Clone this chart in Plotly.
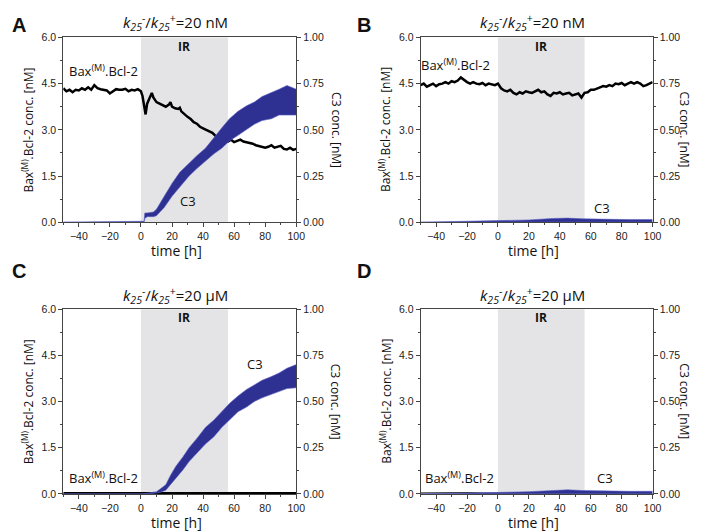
import plotly.graph_objects as go

# ---------------- data ----------------
IR_START, IR_END = 0, 56

# Panel A  (k25-/k25+ = 20 nM)
a_bax_t = [-50, -48, -46, -44, -42, -40, -38, -36, -34, -32, -30, -28, -26, -24, -22, -20, -18, -16, -14, -12,
           -10, -8, -6, -4, -2, 0, 1, 2, 3, 4, 5, 6, 7, 8, 10, 12, 14, 16, 18, 19, 20, 22, 24, 25, 26, 28, 30,
           32, 34, 36, 38, 40, 42, 44, 46, 48, 50, 52, 54, 56, 58, 60, 62, 64, 66, 68, 70, 72, 74, 76, 78, 80,
           82, 84, 86, 88, 90, 92, 94, 96, 98, 100]
a_bax_v = [4.35, 4.25, 4.30, 4.22, 4.30, 4.28, 4.35, 4.30, 4.38, 4.30, 4.45, 4.35, 4.32, 4.30, 4.28, 4.18, 4.25,
           4.32, 4.30, 4.30, 4.33, 4.25, 4.30, 4.28, 4.32, 4.25, 4.10, 3.75, 3.50, 3.85, 3.95, 4.10, 4.20, 4.05,
           3.90, 3.85, 3.80, 3.75, 3.82, 3.90, 3.75, 3.70, 3.68, 3.72, 3.60, 3.50, 3.42, 3.35, 3.25, 3.20, 3.10,
           3.05, 3.00, 2.95, 2.90, 2.80, 2.70, 2.65, 2.60, 2.62, 2.68, 2.60, 2.65, 2.68, 2.62, 2.60, 2.56, 2.55,
           2.50, 2.47, 2.45, 2.42, 2.45, 2.50, 2.42, 2.45, 2.48, 2.38, 2.36, 2.42, 2.35, 2.38]
a_c3_t = [-50, 2, 2.5, 4, 8, 10, 15, 20, 25, 31, 36, 41.5, 47, 52, 57, 62.5, 68, 73, 78, 84, 89, 94, 100]
a_c3_lo = [0, 0, 0.020, 0.030, 0.030, 0.035, 0.08, 0.14, 0.19, 0.25, 0.29, 0.33, 0.37, 0.40, 0.44, 0.47, 0.50,
           0.53, 0.55, 0.56, 0.58, 0.58, 0.58]
a_c3_hi = [0, 0.005, 0.050, 0.050, 0.055, 0.070, 0.14, 0.21, 0.27, 0.32, 0.36, 0.40, 0.46, 0.51, 0.56, 0.60, 0.63,
           0.65, 0.68, 0.70, 0.72, 0.74, 0.72]

# Panel B  (k25-/k25+ = 20 nM)
b_bax_t = list(range(-50, 101, 2))
b_bax_v = [4.45, 4.50, 4.40, 4.45, 4.50, 4.42, 4.48, 4.50, 4.55, 4.50, 4.58, 4.55, 4.60, 4.70, 4.62, 4.55, 4.50,
           4.55, 4.50, 4.48, 4.52, 4.45, 4.50, 4.48, 4.45, 4.50, 4.35, 4.28, 4.25, 4.30, 4.20, 4.15, 4.22, 4.18,
           4.25, 4.22, 4.20, 4.25, 4.30, 4.22, 4.25, 4.15, 4.10, 4.20, 4.18, 4.22, 4.15, 4.18, 4.20, 4.12, 4.15,
           4.18, 4.05, 4.20, 4.22, 4.30, 4.30, 4.35, 4.38, 4.42, 4.40, 4.45, 4.42, 4.50, 4.48, 4.52, 4.45, 4.50,
           4.55, 4.50, 4.55, 4.50, 4.42, 4.45, 4.50, 4.55]
b_c3_t = [-50, 3.5, 20, 35, 45, 55, 70, 85, 100]
b_c3_lo = [0, 0, 0, 0.002, 0.003, 0.002, 0.001, 0.001, 0.001]
b_c3_hi = [0, 0.008, 0.012, 0.020, 0.022, 0.018, 0.014, 0.014, 0.014]

# Panel C  (k25-/k25+ = 20 uM)
c_bax_t = [-50, -30, -10, 10, 30, 50, 70, 90, 100]
c_bax_v = [0.03, 0.03, 0.03, 0.03, 0.03, 0.03, 0.03, 0.03, 0.03]
c_c3_t = [-50, 0, 5, 10, 13, 16, 19, 22.5, 27, 31, 36, 41.5, 47, 52, 57, 62.5, 68, 73, 78, 84, 89, 94, 100]
c_c3_lo = [0, 0, 0.000, 0.005, 0.010, 0.020, 0.05, 0.08, 0.13, 0.175, 0.22, 0.27, 0.31, 0.36, 0.40, 0.445, 0.47,
           0.50, 0.52, 0.54, 0.555, 0.57, 0.575]
c_c3_hi = [0, 0, 0.005, 0.012, 0.030, 0.050, 0.10, 0.15, 0.20, 0.25, 0.30, 0.36, 0.40, 0.445, 0.49, 0.53, 0.565,
           0.59, 0.615, 0.635, 0.655, 0.68, 0.70]

# Panel D  (k25-/k25+ = 20 uM)
d_bax_t = [-50, -40, -30, -20, -10, 0, 10, 30, 50, 70, 90, 100]
d_bax_v = [0.03, 0.04, 0.03, 0.04, 0.03, 0.03, 0.02, 0.02, 0.02, 0.02, 0.02, 0.02]
d_c3_t = [-50, -25, 0, 20, 35, 45, 55, 70, 85, 100]
d_c3_lo = [0, 0, 0, 0, 0.002, 0.003, 0.002, 0.001, 0.001, 0.001]
d_c3_hi = [0, 0.006, 0.008, 0.012, 0.020, 0.022, 0.018, 0.014, 0.014, 0.014]

titles = ["<i>k</i><sub><i>25</i></sub><sup>-</sup>/<i>k</i><sub><i>25</i></sub><sup>+</sup>=20 nM",
          "<i>k</i><sub><i>25</i></sub><sup>-</sup>/<i>k</i><sub><i>25</i></sub><sup>+</sup>=20 nM",
          "<i>k</i><sub><i>25</i></sub><sup>-</sup>/<i>k</i><sub><i>25</i></sub><sup>+</sup>=20 µM",
          "<i>k</i><sub><i>25</i></sub><sup>-</sup>/<i>k</i><sub><i>25</i></sub><sup>+</sup>=20 µM"]
letters = ["A", "B", "C", "D"]
x_ticks = [-40, -20, 0, 20, 40, 60, 80, 100]
left_ticks = [0.0, 1.5, 3.0, 4.5, 6.0]
right_ticks = [0.0, 0.25, 0.5, 0.75, 1.0]

# label positions in data coordinates: (x, left-axis value)
bax_lbl = [(-24, 4.93), (-27.5, 5.12), (-24, 0.53), (-25, 0.53)]
c3_lbl = [(30.3, 0.69), (67, 0.45), (73.3, 4.23), (69, 0.53)]

panels_data = [
    (a_bax_t, a_bax_v, a_c3_t, a_c3_lo, a_c3_hi, 2.5),
    (b_bax_t, b_bax_v, b_c3_t, b_c3_lo, b_c3_hi, 2.5),
    (c_bax_t, c_bax_v, c_c3_t, c_c3_lo, c_c3_hi, 2.0),
    (d_bax_t, d_bax_v, d_c3_t, d_c3_lo, d_c3_hi, 1.0),
]

# ---------------- layout geometry (pixels) ----------------
W, H = 701, 531
boxes = [((56, 292), (24, 213)), ((418, 653), (24, 213)),
         ((56, 292), (302, 491)), ((418, 653), (302, 491))]
right_title_off = [40, 32, 40, 32]

BLUE = "#2e3192"
BLUE_EDGE = "#5b5fc4"
AX = "#444444"
TICKFONT = dict(family="Liberation Sans, Arial", size=10.5, color="#222")
TXT = "Open Sans, Noto Sans, sans-serif"

fig = go.Figure()
layout = dict(width=W, height=H, margin=dict(l=0, r=0, t=0, b=0),
              paper_bgcolor="white", plot_bgcolor="white", showlegend=False)
annotations = []
shapes = []

for i, (bt, bv, ct, clo, chi, lw) in enumerate(panels_data):
    (x0, x1), (y0, y1) = boxes[i]
    xn = "x" if i == 0 else f"x{i+1}"
    yl = f"y{2*i+1}" if i > 0 else "y"
    yr = f"y{2*i+2}"
    xk = "xaxis" if i == 0 else f"xaxis{i+1}"
    ylk = "yaxis" if i == 0 else f"yaxis{2*i+1}"
    yrk = f"yaxis{2*i+2}"
    xdom = [x0 / W, x1 / W]
    ydom = [1 - y1 / H, 1 - y0 / H]

    layout[xk] = dict(domain=xdom, anchor=yl, range=[-50, 100], tickvals=x_ticks,
                      ticks="outside", ticklen=4, tickcolor=AX, showline=True, linecolor=AX,
                      linewidth=1, mirror=True, showgrid=False, zeroline=False, tickfont=TICKFONT,
                      minor=dict(dtick=10, tick0=0, ticks="outside", ticklen=2, tickcolor=AX))
    layout[ylk] = dict(domain=ydom, anchor=xn, range=[0, 6], tickvals=left_ticks,
                       tickformat=".1f", ticks="outside", ticklen=4, tickcolor=AX, showline=True,
                       linecolor=AX, linewidth=1, showgrid=False, zeroline=False, tickfont=TICKFONT,
                       minor=dict(dtick=0.75, tick0=0, ticks="outside", ticklen=2, tickcolor=AX))
    layout[yrk] = dict(domain=ydom, anchor=xn, overlaying=yl, side="right", range=[0, 1],
                       tickvals=right_ticks, tickformat=".2f", ticks="outside", ticklen=4,
                       tickcolor=AX, showline=True, linecolor=AX, linewidth=1, showgrid=False,
                       zeroline=False, tickfont=TICKFONT,
                       minor=dict(dtick=0.125, tick0=0, ticks="outside", ticklen=2, tickcolor=AX))

    # IR shading
    shapes.append(dict(type="rect", xref=xn, yref=f"{yl} domain", x0=IR_START, x1=IR_END, y0=0, y1=1,
                       fillcolor="#e4e4e6", line=dict(width=0), layer="below"))

    # C3 band (right axis)
    fig.add_trace(go.Scatter(x=ct, y=clo, xaxis=xn, yaxis=yr, mode="lines",
                             line=dict(color=BLUE_EDGE, width=0.6), hoverinfo="skip"))
    fig.add_trace(go.Scatter(x=ct, y=chi, xaxis=xn, yaxis=yr, mode="lines", fill="tonexty",
                             fillcolor=BLUE, line=dict(color=BLUE_EDGE, width=0.6), hoverinfo="skip"))
    # Bax(M).Bcl-2 (left axis)
    fig.add_trace(go.Scatter(x=bt, y=bv, xaxis=xn, yaxis=yl, mode="lines",
                             line=dict(color="black", width=lw), hoverinfo="skip"))

    # texts inside panel
    annotations.append(dict(x=28, y=5.72, xref=xn, yref=yl, text="<b>IR</b>", showarrow=False,
                            font=dict(family=TXT, size=12, color="#111")))
    annotations.append(dict(x=bax_lbl[i][0], y=bax_lbl[i][1], xref=xn, yref=yl,
                            text="Bax<sup>(M)</sup>.Bcl-2", showarrow=False,
                            font=dict(family=TXT, size=13, color="#111")))
    annotations.append(dict(x=c3_lbl[i][0], y=c3_lbl[i][1], xref=xn, yref=yl, text="C3",
                            showarrow=False, font=dict(family=TXT, size=13, color="#111")))

    # title
    cx = (x0 + x1) / 2 - 4
    ty = 9 if i < 2 else 288
    annotations.append(dict(x=cx / W, y=1 - ty / H, xref="paper", yref="paper", text=titles[i],
                            showarrow=False, xanchor="center", yanchor="middle",
                            font=dict(family=TXT, size=15, color="#111")))
    # panel letter
    lx = 11 if i % 2 == 0 else 361
    ly = 11 if i < 2 else 263
    annotations.append(dict(x=lx / W, y=1 - ly / H, xref="paper", yref="paper", text=f"<b>{letters[i]}</b>",
                            showarrow=False, xanchor="center", yanchor="middle",
                            font=dict(family="Liberation Sans, Arial", size=20, color="#111")))
    # axis titles
    annotations.append(dict(x=((x0 + x1) / 2 - 3) / W, y=1 - (y1 + 29) / H, xref="paper", yref="paper",
                            text="time [h]", showarrow=False, xanchor="center", yanchor="middle",
                            font=dict(family=TXT, size=14, color="#111")))
    annotations.append(dict(x=(x0 - 36) / W, y=1 - ((y0 + y1) / 2) / H, xref="paper", yref="paper",
                            text="Bax<sup>(M)</sup>.Bcl-2 conc. [nM]", textangle=-90, showarrow=False,
                            xanchor="center", yanchor="middle",
                            font=dict(family=TXT, size=12, color="#111")))
    annotations.append(dict(x=(x1 + right_title_off[i]) / W, y=1 - ((y0 + y1) / 2) / H, xref="paper",
                            yref="paper", text="C3 conc. [nM]", textangle=90, showarrow=False,
                            xanchor="center", yanchor="middle",
                            font=dict(family=TXT, size=12, color="#111")))

layout["annotations"] = annotations
layout["shapes"] = shapes
fig.update_layout(**layout)
fig.write_html("out.html")
